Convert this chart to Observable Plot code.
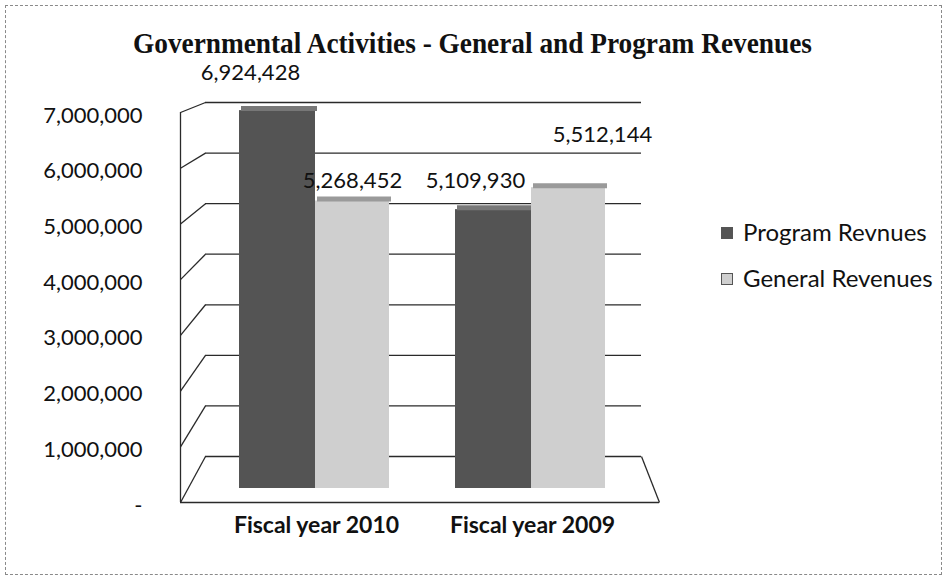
<!DOCTYPE html>
<html>
<head>
<meta charset="utf-8">
<script src="https://cdn.jsdelivr.net/npm/d3@7"></script>
<script src="https://cdn.jsdelivr.net/npm/@observablehq/plot@0.6"></script>
<style>
  html, body { margin: 0; padding: 0; background: #fff; }
  #wrap { position: relative; width: 945px; height: 578px; overflow: hidden; background: #fff; }
  #border { position: absolute; left: 5px; top: 5px; width: 935px; height: 568px; border: 1px dashed #8a8a8a; }
  .layer { position: absolute; left: 0; top: 0; }
  #title { position: absolute; left: 0; width: 945px; top: 24px; text-align: center;
           font-family: "Liberation Serif", "DejaVu Serif", serif; font-weight: bold; font-size: 30px;
           color: #111; line-height: 38px; transform: scaleX(0.91); transform-origin: 472px 0; }
  .leg { position: absolute; left: 721px; font-family: Lato, "Open Sans", sans-serif; font-size: 24px; color: #111; line-height: 28px; white-space: nowrap; }
  .leg span.sw { display: inline-block; width: 10px; height: 10px; margin-right: 10px; vertical-align: 2px; }
</style>
</head>
<body>
<div id="wrap">
  <div id="border"></div>
  <div id="title">Governmental Activities - General and Program Revenues</div>
  <div id="plots"></div>
  <div class="leg" id="leg0" style="top:218px"></div>
  <div class="leg" id="leg1" style="top:264px"></div>
</div>
<script>
// ---- data ----
const categories = ["Fiscal year 2010", "Fiscal year 2009"];
const series = ["Program Revnues", "General Revenues"];
const programValues = [6924428, 5109930];
const generalValues = [5268452, 5512144];
const yTicks = [0, 1000000, 2000000, 3000000, 4000000, 5000000, 6000000, 7000000];
const yMax = 7000000;

const rows = categories.flatMap((c, i) => [
  {category: c, series: series[0], value: programValues[i]},
  {category: c, series: series[1], value: generalValues[i]}
]);

// ---- styling / layout ----
const W = 945, H = 578;
const colors = {[series[0]]: "#545454", [series[1]]: "#cfcfcf"};
const tops = {[series[0]]: "#777777", [series[1]]: "#9a9a9a"};
const lineColor = "#2a2a2a";
const font = "Lato, 'Open Sans', sans-serif";

// back wall, front edge, and bar layers (pseudo-3D)
const back = {left: 205, right: 641, bottom: 456, top: 102};
const front = {left: 180, right: 659, bottom: 502, top: 112};
const bars = {left: 206, right: 638, bottom: 488, top: 106};

const yBack = Plot.scale({y: {domain: [0, yMax], range: [back.bottom, back.top]}});
const yFront = Plot.scale({y: {domain: [0, yMax], range: [front.bottom, front.top]}});
const xFront = Plot.scale({x: {domain: [0, 1], range: [front.left, front.right]}});

const fmt = d => d === 0 ? "-" : d3.format(",")(d);

// Layer 1: back wall gridlines
const wall = Plot.plot({
  width: W, height: H,
  marginLeft: back.left, marginRight: W - back.right, marginTop: back.top, marginBottom: H - back.bottom,
  style: {background: "transparent", overflow: "visible"},
  y: {domain: [0, yMax], axis: null},
  marks: [
    Plot.ruleY(yTicks, {stroke: lineColor, strokeWidth: 1.3})
  ]
});

// Layer 2: front edge, side wall diagonals, y labels
const frontPlot = Plot.plot({
  width: W, height: H,
  marginLeft: front.left, marginRight: W - front.right, marginTop: front.top, marginBottom: H - front.bottom,
  style: {background: "transparent", overflow: "visible", fontFamily: font},
  x: {domain: [0, 1], axis: null},
  y: {domain: [0, yMax], axis: null},
  marks: [
    Plot.ruleX([0], {y1: 0, y2: yMax, stroke: lineColor, strokeWidth: 1.3}),
    Plot.ruleY([0], {stroke: lineColor, strokeWidth: 1.3}),
    Plot.link(yTicks, {
      x1: 0, y1: d => d,
      x2: xFront.invert(back.left), y2: d => yFront.invert(yBack.apply(d)),
      stroke: lineColor, strokeWidth: 1.3
    }),
    Plot.link([0], {
      x1: 1, y1: d => d,
      x2: xFront.invert(back.right), y2: d => yFront.invert(yBack.apply(d)),
      stroke: lineColor, strokeWidth: 1.3
    }),
    Plot.text(yTicks, {
      y: d => d, frameAnchor: "left", text: fmt, textAnchor: "end",
      dx: -38, dy: 3, fontSize: 22, fill: "#111"
    })
  ]
});

// Layer 3: bars, value labels, category labels
const inset = {[series[0]]: [33, 107], [series[1]]: [109, 33]};
const barMarks = series.flatMap(s => {
  const data = rows.filter(r => r.series === s);
  return [
    Plot.barY(data, {x: "category", y: "value", fill: colors[s], insetLeft: inset[s][0], insetRight: inset[s][1]}),
    Plot.tickY(data, {x: "category", y: "value", stroke: tops[s], strokeWidth: 5, dy: -2, insetLeft: inset[s][0] + 2, insetRight: inset[s][1] - 2})
  ];
});
const labelOffsets = [[-27, -38], [0, -20], [-18, -29], [34, -53]];
const valueLabels = rows.map((r, i) => Plot.text([r], {
  x: "category", y: "value", text: d => d3.format(",")(d.value),
  dx: (inset[r.series][0] - inset[r.series][1]) / 2 + labelOffsets[i][0], dy: labelOffsets[i][1],
  fontSize: 22, fill: "#111"
}));

const barPlot = Plot.plot({
  width: W, height: H,
  marginLeft: bars.left, marginRight: W - bars.right, marginTop: bars.top, marginBottom: H - bars.bottom,
  style: {background: "transparent", overflow: "visible", fontFamily: font},
  x: {domain: categories, padding: 0, axis: null},
  y: {domain: [0, yMax], axis: null},
  marks: [
    ...barMarks,
    ...valueLabels,
    Plot.text(categories, {x: d => d, frameAnchor: "bottom", text: d => d, dy: 44, dx: 2, fontSize: 23, fontWeight: "bold", fill: "#111"})
  ]
});

const holder = document.getElementById("plots");
[wall, frontPlot, barPlot].forEach(p => { p.classList.add("layer"); holder.appendChild(p); });

// legend
series.forEach((s, i) => {
  const el = document.getElementById("leg" + i);
  el.innerHTML = `<span class="sw" style="background:${colors[s]};border:1px solid #555"></span>${s}`;
});
</script>
</body>
</html>
